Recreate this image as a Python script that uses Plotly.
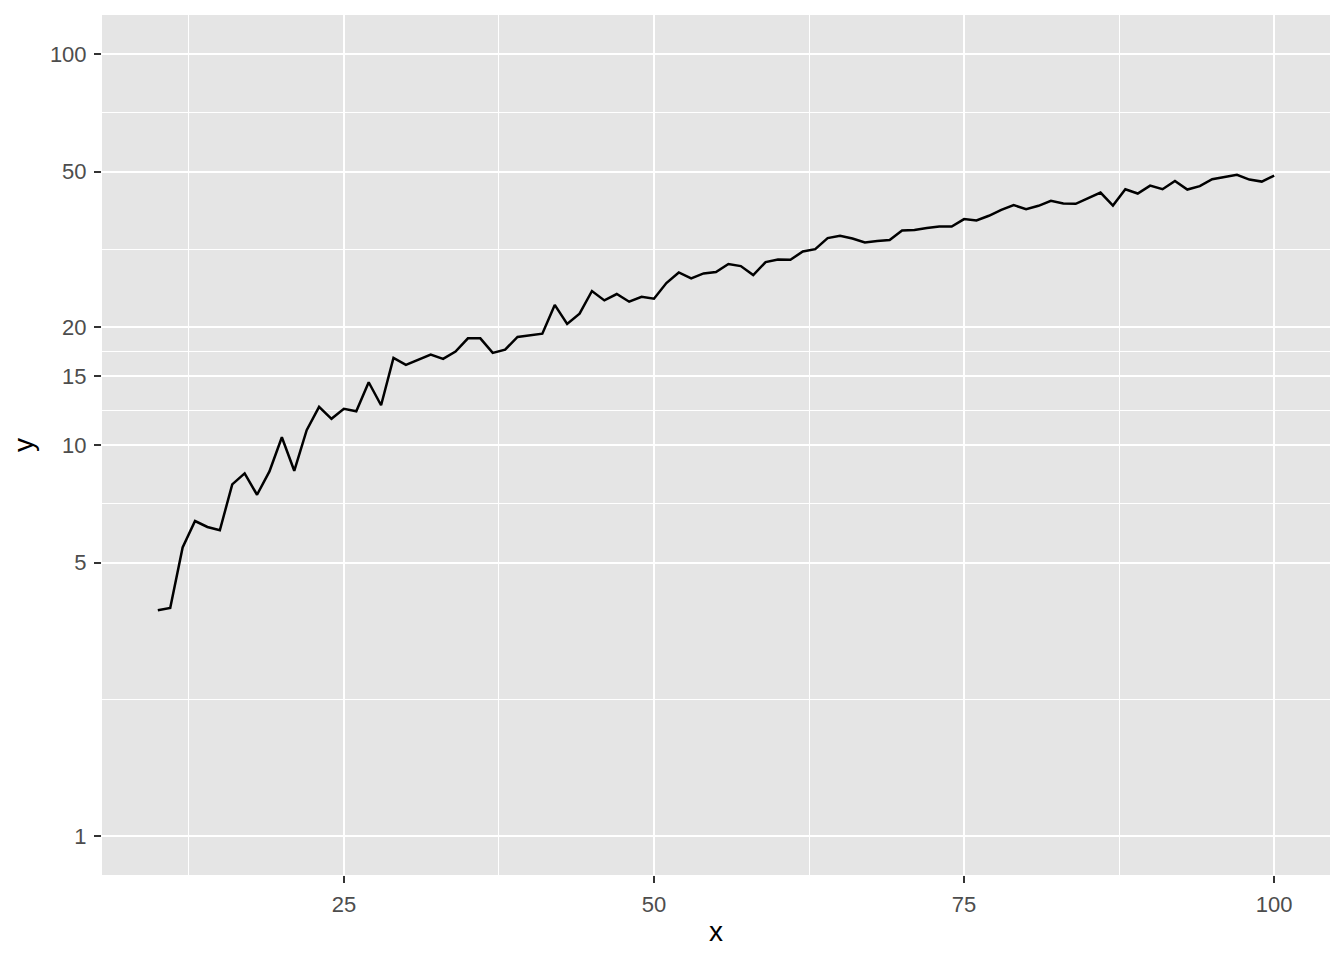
import numpy as np
import plotly.graph_objects as go

x = list(range(10, 101))
y = [3.78, 3.83, 5.47, 6.39, 6.17, 6.05, 7.93, 8.46, 7.46, 8.56,
     10.47, 8.59, 10.91, 12.52, 11.67, 12.38, 12.20, 14.47, 12.64, 16.70,
     16.03, 16.54, 17.03, 16.61, 17.34, 18.74, 18.74, 17.20, 17.54, 18.90,
     19.08, 19.27, 22.82, 20.40, 21.67, 24.77, 23.44, 24.33, 23.26, 23.95,
     23.67, 25.96, 27.63, 26.68, 27.47, 27.70, 29.03, 28.69, 27.21, 29.38,
     29.83, 29.78, 31.26, 31.70, 33.82, 34.29, 33.75, 32.96, 33.24, 33.43,
     35.38, 35.46, 35.88, 36.22, 36.22, 37.83, 37.52, 38.58, 39.96, 41.08,
     40.12, 40.91, 42.13, 41.46, 41.39, 42.88, 44.23, 40.98, 45.12, 43.98,
     46.09, 45.12, 47.38, 45.02, 45.93, 47.86, 48.43, 49.09, 47.75, 47.19,
     48.89]

x_breaks = [25, 50, 75, 100]
y_breaks = [1, 5, 10, 15, 20, 50, 100]

# minor grid halfway between majors (in transformed space, like ggplot)
x_minor = [12.5, 37.5, 62.5, 87.5]
yb = np.log10(y_breaks)
y_minor = list(10 ** ((yb[:-1] + yb[1:]) / 2))

font = "Liberation Sans, Arial, sans-serif"

fig = go.Figure()
fig.add_trace(go.Scatter(x=x, y=y, mode="lines",
                         line=dict(color="black", width=2.5),
                         showlegend=False))

axis_common = dict(
    showline=False, zeroline=False,
    gridcolor="white", gridwidth=2.2,
    ticks="outside", ticklen=7, tickwidth=2, tickcolor="#333333",
    ticklabelstandoff=3,
    tickfont=dict(family=font, size=22, color="#4D4D4D"),
)

fig.update_xaxes(
    range=[5.5, 104.5], tickmode="array", tickvals=x_breaks,
    minor=dict(tickmode="array", tickvals=x_minor, showgrid=True,
               gridcolor="white", gridwidth=1.1, ticks=""),
    title=dict(text="x", font=dict(family=font, size=28, color="black"), standoff=4),
    **axis_common,
)
fig.update_yaxes(
    type="log", range=[-0.1, 2.1], tickmode="array", tickvals=y_breaks,
    ticktext=[str(v) for v in y_breaks],
    minor=dict(tickmode="array", tickvals=y_minor, showgrid=True,
               gridcolor="white", gridwidth=1.1, ticks=""),
    title=dict(text="y", font=dict(family=font, size=28, color="black"), standoff=10),
    **axis_common,
)

fig.update_layout(
    width=1336, height=952,
    margin=dict(l=94, r=14, t=7, b=85),
    paper_bgcolor="white", plot_bgcolor="#E5E5E5",
    font=dict(family=font),
)

fig.write_html("out.html")
